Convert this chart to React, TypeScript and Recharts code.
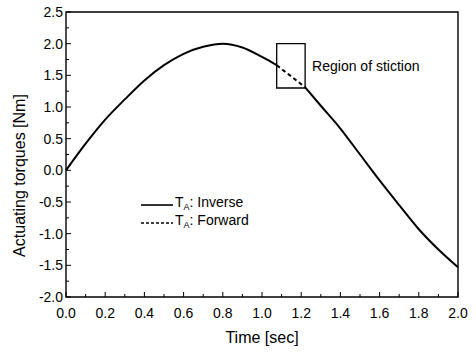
import {
  Line,
  LineChart,
  ReferenceArea,
  XAxis,
  YAxis,
  Label,
} from "recharts";

const timeSec = [0, 0.1, 0.2, 0.3, 0.4, 0.5, 0.6, 0.7, 0.8, 0.9, 1.0, 1.075, 1.1, 1.2, 1.22, 1.3, 1.4, 1.5, 1.6, 1.7, 1.8, 1.9, 2.0];
const inverseTorque = [0, 0.42, 0.8, 1.12, 1.42, 1.66, 1.84, 1.95, 2.0, 1.94, 1.79, 1.66, null, null, 1.31, 1.02, 0.66, 0.25, -0.16, -0.55, -0.93, -1.25, -1.53];
const forwardTorque = [null, null, null, null, null, null, null, null, null, null, null, 1.66, 1.6, 1.36, 1.31, null, null, null, null, null, null, null, null];

const xTicks = [0, 0.1, 0.2, 0.3, 0.4, 0.5, 0.6, 0.7, 0.8, 0.9, 1.0, 1.1, 1.2, 1.3, 1.4, 1.5, 1.6, 1.7, 1.8, 1.9, 2.0];
const yTicks = [-2, -1.75, -1.5, -1.25, -1, -0.75, -0.5, -0.25, 0, 0.25, 0.5, 0.75, 1, 1.25, 1.5, 1.75, 2, 2.25, 2.5];

const stiction = { t0: 1.075, t1: 1.22, lo: 1.3, hi: 2.0 };

const data = timeSec.map((t, i) => ({
  t,
  inverse: inverseTorque[i],
  forward: forwardTorque[i],
}));

const FONT = '"Liberation Sans", Arial, sans-serif';

const isMajor = (v: number, step: number) => Math.abs(v / step - Math.round(v / step)) < 1e-6;

function XTick(props: any) {
  const { x, y, payload } = props;
  const major = isMajor(payload.value, 0.2);
  const axisY = y - 2;
  return (
    <g>
      <line x1={x} x2={x} y1={axisY} y2={axisY - (major ? 5 : 3)} stroke="#000" strokeWidth={1} />
      {major && (
        <text x={x} y={axisY + 21} textAnchor="middle" fontSize={14} fontFamily={FONT} fill="#000">
          {payload.value.toFixed(1)}
        </text>
      )}
    </g>
  );
}

function YTick(props: any) {
  const { x, y, payload } = props;
  const major = isMajor(payload.value, 0.5);
  const axisX = x + 4;
  return (
    <g>
      <line x1={axisX} x2={axisX + (major ? 5 : 3)} y1={y} y2={y} stroke="#000" strokeWidth={1} />
      {major && (
        <text x={x + 1} y={y + 5} textAnchor="end" fontSize={14} fontFamily={FONT} fill="#000">
          {payload.value.toFixed(1)}
        </text>
      )}
    </g>
  );
}

function LegendBox() {
  const rows = [
    { name: "Inverse", dash: undefined },
    { name: "Forward", dash: "3 2" },
  ];
  return (
    <div style={{ position: "absolute", left: 141, top: 196, fontFamily: FONT, fontSize: 14, color: "#000", lineHeight: "17px" }}>
      {rows.map((r) => (
        <div key={r.name} style={{ display: "flex", alignItems: "center", height: 18 }}>
          <svg width={32} height={6}>
            <line x1={0} x2={32} y1={3} y2={3} stroke="#000" strokeWidth={1.6} strokeDasharray={r.dash} />
          </svg>
          <span style={{ marginLeft: 2 }}>
            T<sub style={{ fontSize: 9, verticalAlign: "-3px" }}>A</sub>: {r.name}
          </span>
        </div>
      ))}
    </div>
  );
}

export default function App() {
  return (
    <div style={{ position: "absolute", left: 0, top: 0, width: 476, height: 353, background: "#fff" }}>
      <LineChart width={476} height={353} data={data} margin={{ top: 12, right: 18, left: 0, bottom: 0 }}>
        <XAxis
          dataKey="t"
          type="number"
          domain={[0, 2]}
          ticks={xTicks}
          interval={0}
          tickSize={0}
          tickMargin={2}
          axisLine={false}
          tick={<XTick />}
          height={56}
        >
          <Label
            content={(p: any) => {
              const vb = p.viewBox;
              return (
                <text x={vb.x + vb.width / 2} y={vb.y + 46} textAnchor="middle" fontSize={16} fontFamily={FONT} fill="#000">
                  Time [sec]
                </text>
              );
            }}
          />
        </XAxis>
        <YAxis
          type="number"
          domain={[-2, 2.5]}
          ticks={yTicks}
          interval={0}
          tickSize={0}
          tickMargin={4}
          axisLine={false}
          tick={<YTick />}
          width={66}
        >
          <Label
            content={(p: any) => {
              const vb = p.viewBox;
              const cx = 25;
              const cy = vb.y + vb.height / 2 + 21;
              return (
                <text x={cx} y={cy} transform={`rotate(-90 ${cx} ${cy})`} textAnchor="middle" fontSize={16} fontFamily={FONT} fill="#000">
                  Actuating torques [Nm]
                </text>
              );
            }}
          />
        </YAxis>
        <ReferenceArea x1={0} x2={2} y1={-2} y2={2.5} fill="none" stroke="#000" strokeWidth={1.4} />
        <ReferenceArea
          x1={stiction.t0}
          x2={stiction.t1}
          y1={stiction.lo}
          y2={stiction.hi}
          fill="none"
          stroke="#000"
          strokeWidth={1.3}
          label={{ value: "Region of stiction", position: "right", offset: 7, fontSize: 14, fontFamily: FONT, fill: "#000" }}
        />
        <Line
          dataKey="inverse"
          stroke="#000"
          strokeWidth={2}
          dot={false}
          isAnimationActive={false}
          connectNulls={false}
          type="monotone"
        />
        <Line
          dataKey="forward"
          stroke="#000"
          strokeWidth={2}
          strokeDasharray="4 3"
          dot={false}
          isAnimationActive={false}
          connectNulls={false}
          type="monotone"
        />
      </LineChart>
      <LegendBox />
    </div>
  );
}
